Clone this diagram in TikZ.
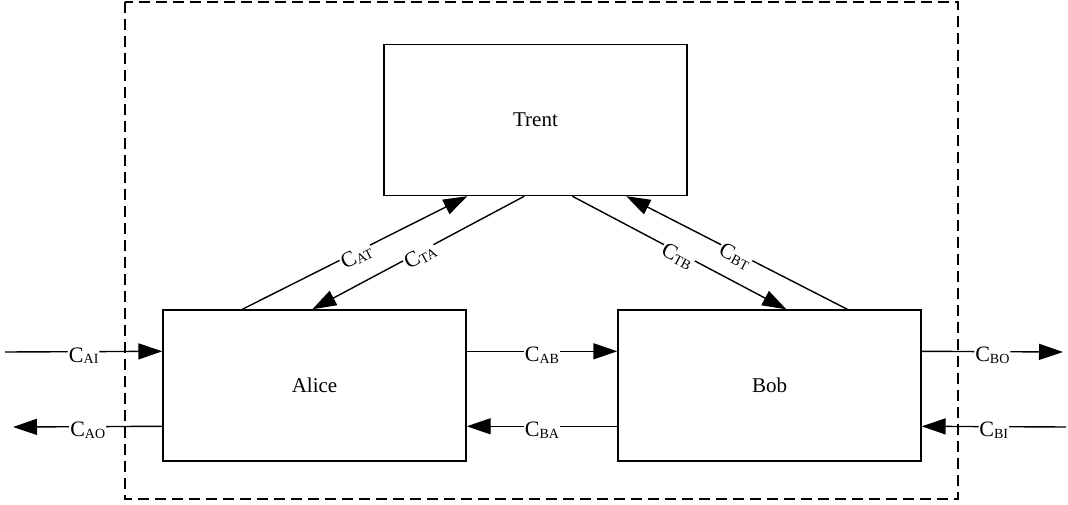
\documentclass[tikz,border=0pt]{standalone}
\usepackage{fontspec}
\setmainfont{Liberation Serif}
\usetikzlibrary{arrows.meta,calc}
\newcommand\clab[1]{C\raisebox{-2pt}{\fontsize{14}{14}\selectfont #1}}
\begin{document}
\begin{tikzpicture}[x=1pt,y=-1pt,
  box/.style={draw, line width=1.4pt, minimum width=303pt, minimum height=151pt, inner sep=0pt, font=\fontsize{21}{25}\selectfont},
  flow/.style={line width=1.4pt, -{Triangle[length=24pt,width=16pt]}},
  lab/.style={fill=white, inner sep=1pt, sloped, yshift=-4pt, font=\fontsize{22}{26}\selectfont}]
\useasboundingbox (0,0) rectangle (1068,505);
\draw[line width=1.4pt, dash pattern=on 11pt off 6pt] (125,2) rectangle (958,499);
\node[box] (T) at (535.5,120) {Trent};
\node[box] (A) at (314.5,385.5) {Alice};
\node[box] (B) at (769.5,385.5) {Bob};
\coordinate (ai) at (5,352);
\coordinate (ao) at (13,427);
\coordinate (bo) at (1063,352);
\coordinate (bi) at (1066,427);
% diagonal
\draw[flow] ($(A.north west)+(80,0)$) -- node[lab]{\clab{AT}} ($(T.south west)+(84,0)$);
\draw[flow] ($(T.south west)+(141,0)$) -- node[lab]{\clab{TA}} ($(A.north west)+(150,0)$);
\draw[flow] ($(T.south west)+(189,0)$) -- node[lab]{\clab{TB}} ($(B.north west)+(169,0)$);
\draw[flow] ($(B.north west)+(230,0)$) -- node[lab]{\clab{BT}} ($(T.south west)+(243,0)$);
% horizontal
\draw[flow] (ai) -- node[lab]{\clab{AI}} ($(A.north west)+(0,42)$);
\draw[flow] ($(A.north west)+(0,117)$) -- node[lab]{\clab{AO}} (ao);
\draw[flow] ($(A.north east)+(0,42)$) -- node[lab]{\clab{AB}} ($(B.north west)+(0,42)$);
\draw[flow] ($(B.north west)+(0,117)$) -- node[lab]{\clab{BA}} ($(A.north east)+(0,117)$);
\draw[flow] ($(B.north east)+(0,42)$) -- node[lab]{\clab{BO}} (bo);
\draw[flow] (bi) -- node[lab]{\clab{BI}} ($(B.north east)+(0,117)$);
\end{tikzpicture}
\end{document}
